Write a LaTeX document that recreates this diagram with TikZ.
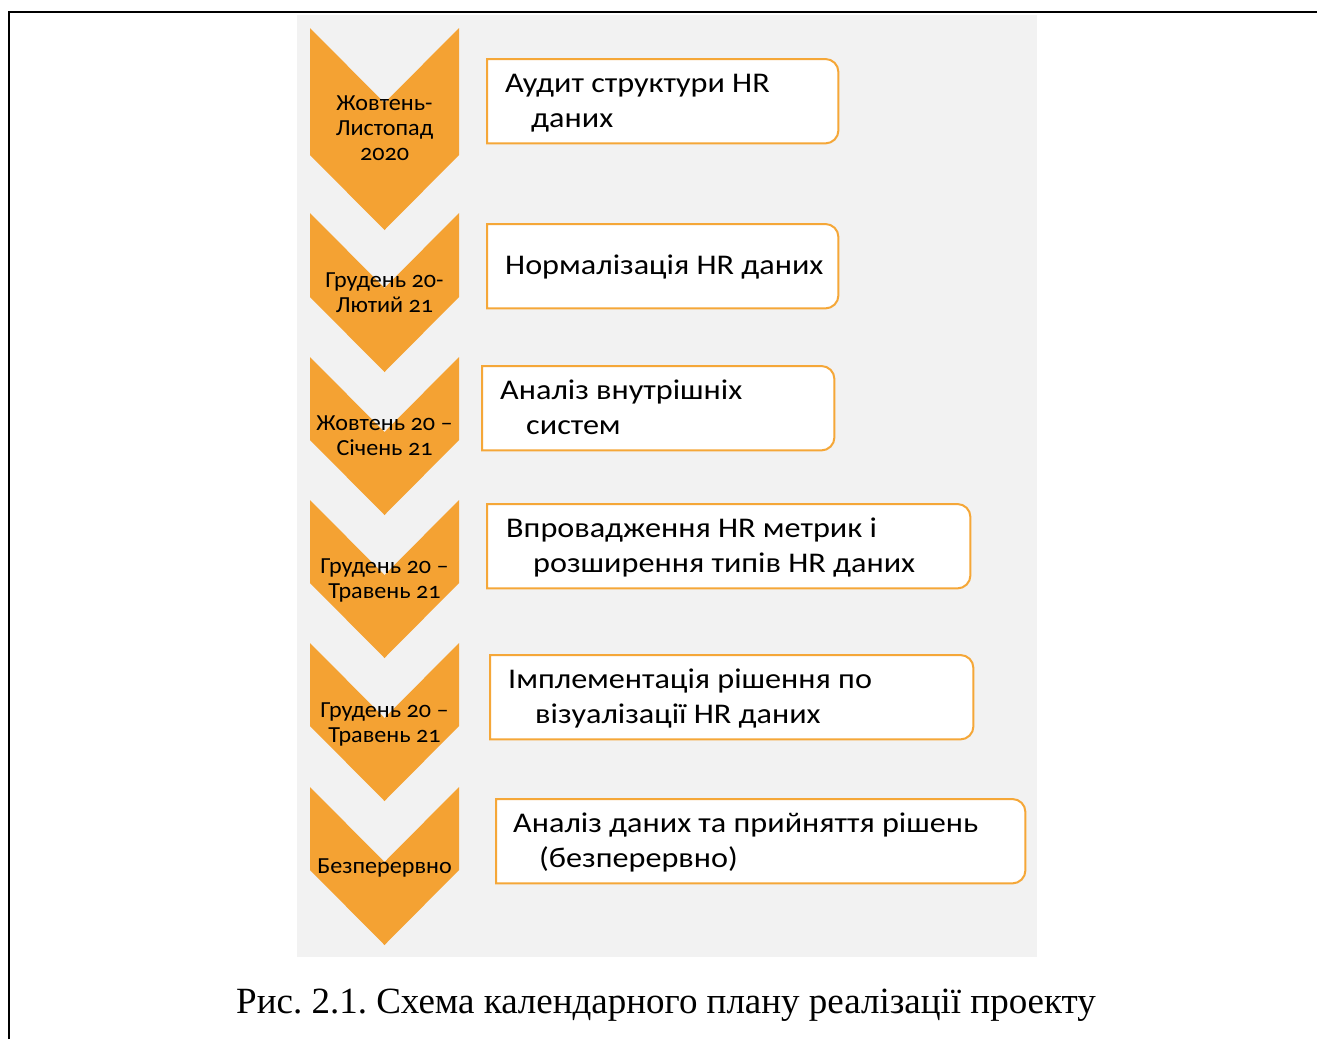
\documentclass[tikz,border=0pt]{standalone}
\usepackage{fontspec}
\setmainfont{Carlito}
\newfontfamily\cfont[Numbers=OldStyle,FakeStretch=1.05]{Carlito}
\newfontfamily\bfontf[Numbers=OldStyle,FakeStretch=1.13]{Carlito}
\newfontfamily\capfont{Liberation Serif}
\definecolor{chev}{HTML}{F4A233}
\definecolor{bline}{HTML}{F5A738}
\definecolor{bg}{HTML}{F2F2F2}
\tikzset{
  chevshape/.style={fill=chev, draw=none},
  chevtext/.style={font=\cfont\fontsize{23}{25}\selectfont, inner sep=0pt, anchor=base, text=black},
  boxframe/.style={draw=none, minimum width=#1, minimum height=84pt, inner sep=0pt, anchor=north west},
  boxline/.style={draw=bline, line width=2pt, fill=white},
  boxtext/.style={font=\bfontf\fontsize{28.5}{35}\selectfont, inner sep=0pt, anchor=base west, text=black},
  frameline/.style={draw=black, line width=2.2pt},
}
\newcommand{\rbox}[1]{%
  \draw[boxline] (#1.north west) -- ([xshift=-13pt]#1.north east)
    arc[start angle=90,end angle=0,radius=13pt] -- ([yshift=13pt]#1.south east)
    arc[start angle=0,end angle=-90,radius=13pt] -- (#1.south west) -- cycle;}
\newcommand{\chevron}[2]{%
  \fill[chevshape] (310,#1) -- (384.5,#1+75) -- (459,#1) -- (459,#1+#2) -- (384.5,#1+#2+75) -- (310,#1+#2) -- cycle;}
\begin{document}
\frenchspacing
\begin{tikzpicture}[x=1pt,y=-1pt]
\useasboundingbox (0,0) rectangle (1317,1039);
% frame
\coordinate (fr1) at (9,1039);
\coordinate (fr2) at (9,12);
\coordinate (fr3) at (1317,12);
\draw[frameline] (fr1) -- (fr2) -- (fr3);
% background
\fill[bg] (297,15) rectangle (1037,957);
% chevrons
\chevron{28}{127}
\chevron{213}{84}
\chevron{357}{83}
\chevron{500}{83}
\chevron{643}{83}
\chevron{787}{83}
% chevron texts
\node[chevtext] (c1a) at (384.5,110) {Жовтень-};
\node[chevtext] (c1b) at (384.5,135) {Листопад};
\node[chevtext] (c1c) at (384.5,160) {2020};
\node[chevtext] (c2a) at (384.5,287) {Грудень 20-};
\node[chevtext] (c2b) at (384.5,312) {Лютий 21};
\node[chevtext] (c3a) at (384.5,430) {Жовтень 20 –};
\node[chevtext] (c3b) at (384.5,455) {Січень 21};
\node[chevtext] (c4a) at (384.5,573) {Грудень 20 –};
\node[chevtext] (c4b) at (384.5,598) {Травень 21};
\node[chevtext] (c5a) at (384.5,717) {Грудень 20 –};
\node[chevtext] (c5b) at (384.5,742) {Травень 21};
\node[chevtext] (c6a) at (384.5,873) {Безперервно};
% boxes
\node[boxframe=351pt] (b1) at (487,59) {};
\node[boxframe=351pt] (b2) at (487,224) {};
\node[boxframe=352pt] (b3) at (482,366) {};
\node[boxframe=483pt] (b4) at (487,504) {};
\node[boxframe=483pt] (b5) at (490,655) {};
\node[boxframe=529pt] (b6) at (496,799) {};
\rbox{b1}\rbox{b2}\rbox{b3}\rbox{b4}\rbox{b5}\rbox{b6}
% box texts
\node[boxtext] (t1a) at (505,92) {Аудит структури HR};
\node[boxtext] (t1b) at (531,127) {даних};
\node[boxtext] (t2a) at (505,274) {Нормалізація HR даних};
\node[boxtext] (t3a) at (500,399) {Аналіз внутрішніх};
\node[boxtext] (t3b) at (526,434) {систем};
\node[boxtext] (t4a) at (506,537) {Впровадження HR метрик і};
\node[boxtext] (t4b) at (533,572) {розширення типів HR даних};
\node[boxtext] (t5a) at (508,688) {Імплементація рішення по};
\node[boxtext] (t5b) at (535,723) {візуалізації HR даних};
\node[boxtext] (t6a) at (513,832) {Аналіз даних та прийняття рішень};
\node[boxtext] (t6b) at (539,867) {(безперервно)};
% caption
\node[font=\capfont\fontsize{37}{42}\selectfont, inner sep=0pt, anchor=base] (cap) at (666,1013) {Рис. 2.1. Схема календарного плану реалізації проекту};
\end{tikzpicture}
\end{document}
